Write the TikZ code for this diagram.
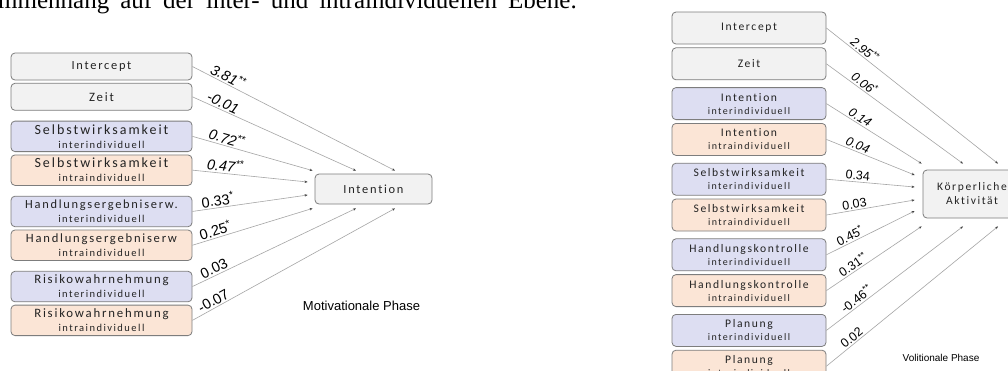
\documentclass[tikz,border=0pt]{standalone}
\usepackage{fontspec}
\setmainfont{Liberation Sans}
\newfontfamily\boxfont{Carlito}[LetterSpace=14,Ligatures=NoCommon]
\newfontfamily\headfont{Liberation Serif}
\usetikzlibrary{positioning, arrows.meta, calc}
\definecolor{boxgray}{RGB}{242,242,242}
\definecolor{boxblue}{RGB}{221,222,242}
\definecolor{boxorange}{RGB}{251,229,214}
\definecolor{rimgray}{RGB}{125,125,125}
\definecolor{pathgray}{RGB}{165,165,165}
\definecolor{boxtext}{RGB}{35,35,35}
\tikzset{
  basebox/.style={rectangle,rounded corners=4pt,draw=rimgray,line width=0.8pt,align=center,inner sep=0pt,text=boxtext},
  lbox/.style={basebox,minimum width=181pt,minimum height=30.5pt},
  rbox/.style={basebox,minimum width=154pt,minimum height=32pt,font=\boxfont\fontsize{11.6}{13}\selectfont},
  lsize/.style={font=\boxfont\fontsize{#1}{14}\selectfont},
  graybox/.style={fill=boxgray},
  interbox/.style={fill=boxblue},
  intrabox/.style={fill=boxorange},
  arr/.style={-{Stealth[length=3pt,width=2.4pt,color=black!75]},draw=pathgray,line width=0.6pt},
  lweight/.style={sloped,above,inner sep=1.5pt,font=\fontsize{14.5}{14.5}\selectfont},
  rweight/.style={sloped,above,inner sep=1.5pt,font=\fontsize{12.5}{12.5}\selectfont}
}
\newcommand{\lsub}{\fontsize{10.5}{12}\selectfont}
\newcommand{\rsub}{\fontsize{10}{11}\selectfont}

\begin{document}
\begin{tikzpicture}[x=1pt,y=-1pt]
  \clip (0,0) rectangle (1008,370);
  \fill[white] (0,0) rectangle (1008,370);

  %% text line above
  \node[anchor=base west,inner sep=0pt,font=\headfont\fontsize{25}{25}\selectfont] (kopf) at (-2,8)
    {\spaceskip=11pt\relax mmenhang auf der inter- und intraindividuellen Ebene.};

  %% Motivationale Phase
  \node[lbox,graybox,lsize=12.4,minimum height=27pt] (lint) at (101.5,66.5) {Intercept};
  \node[lbox,graybox,lsize=12.8,minimum height=27pt,below=2.5pt of lint] (lzeit) {Zeit};
  \node[lbox,interbox,lsize=14,below=10pt of lzeit] (lselbinter) {Selbstwirksamkeit\\{\lsub interindividuell}};
  \node[lbox,intrabox,lsize=14,below=2.5pt of lselbinter] (lselbintra) {Selbstwirksamkeit\\{\lsub intraindividuell}};
  \node[lbox,interbox,lsize=12.4,below=10pt of lselbintra] (lhandinter) {Handlungsergebniserw.\\{\lsub interindividuell}};
  \node[lbox,intrabox,lsize=12.6,below=2.5pt of lhandinter] (lhandintra) {Handlungsergebniserw\\{\lsub intraindividuell}};
  \node[lbox,interbox,lsize=12.8,below=10pt of lhandintra] (lrisinter) {Risikowahrnehmung\\{\lsub interindividuell}};
  \node[lbox,intrabox,lsize=12.8,below=2.5pt of lrisinter] (lrisintra) {Risikowahrnehmung\\{\lsub intraindividuell}};

  \node[lbox,graybox,lsize=12.4,minimum width=117pt,minimum height=30pt] (intention) at (373.5,189) {Intention};

  \coordinate (it1) at ([xshift=-2pt,yshift=3pt]intention.north west);
  \coordinate (it2) at ([xshift=-17.5pt,yshift=3pt]intention.north);
  \coordinate (it3) at ([xshift=21.5pt,yshift=3pt]intention.north);
  \coordinate (il1) at ([xshift=-7pt,yshift=7pt]intention.west);
  \coordinate (il2) at ([xshift=-7pt,yshift=-6pt]intention.west);
  \coordinate (ib1) at ([xshift=-2pt,yshift=-4pt]intention.south west);
  \coordinate (ib2) at ([xshift=-17.5pt,yshift=-4pt]intention.south);
  \coordinate (ib3) at ([xshift=21.5pt,yshift=-4pt]intention.south);

  \draw[arr] (lint.east) -- node[lweight,pos=0.16]{\itshape 3.81\textsuperscript{**}} (it3);
  \draw[arr] (lzeit.east) -- node[lweight,pos=0.17]{\itshape -0.01} (it2);
  \draw[arr] (lselbinter.east) -- node[lweight,pos=0.27]{\itshape 0.72\textsuperscript{**}} (it1);
  \draw[arr] (lselbintra.east) -- node[lweight,pos=0.28]{\itshape 0.47\textsuperscript{**}} (il1);
  \draw[arr] (lhandinter.east) -- node[lweight,pos=0.23]{0.33\textsuperscript{*}} (il2);
  \draw[arr] (lhandintra.east) -- node[lweight,pos=0.21]{0.25\textsuperscript{*}} (ib1);
  \draw[arr] (lrisinter.east) -- node[lweight,pos=0.15]{0.03} (ib2);
  \draw[arr] (lrisintra.east) -- node[lweight,pos=0.12]{-0.07} (ib3);

  \node[font=\fontsize{13}{13}\selectfont] (motiv) at (361.5,306) {Motivationale Phase};

  %% Volitionale Phase
  \node[rbox,graybox] (rint) at (749,28) {Intercept};
  \node[rbox,graybox,below=3pt of rint] (rzeit) {Zeit};
  \node[rbox,interbox,below=7pt of rzeit] (rintinter) {Intention\\{\rsub interindividuell}};
  \node[rbox,intrabox,below=3pt of rintinter] (rintintra) {Intention\\{\rsub intraindividuell}};
  \node[rbox,interbox,below=7pt of rintintra] (rselbinter) {Selbstwirksamkeit\\{\rsub interindividuell}};
  \node[rbox,intrabox,below=3pt of rselbinter] (rselbintra) {Selbstwirksamkeit\\{\rsub intraindividuell}};
  \node[rbox,interbox,below=7pt of rselbintra] (rhandinter) {Handlungskontrolle\\{\rsub interindividuell}};
  \node[rbox,intrabox,below=3pt of rhandinter] (rhandintra) {Handlungskontrolle\\{\rsub intraindividuell}};
  \node[rbox,interbox,below=7pt of rhandintra] (rplaninter) {Planung\\{\rsub interindividuell}};
  \node[rbox,intrabox,below=3pt of rplaninter] (rplanintra) {Planung\\{\rsub intraindividuell}};

  \node[rbox,graybox,font=\boxfont\fontsize{11.5}{14}\selectfont,minimum width=98pt,minimum height=48pt] (aktiv) at (972,194) {Körperliche\\Aktivität};

  \coordinate (kt1) at ([xshift=-1pt,yshift=6pt]aktiv.north west);
  \coordinate (kt2) at ([xshift=-9pt,yshift=6pt]aktiv.north);
  \coordinate (kt3) at ([xshift=26pt,yshift=6pt]aktiv.north);
  \coordinate (kl1) at ([xshift=-8pt,yshift=19pt]aktiv.west);
  \coordinate (kl2) at ([xshift=-8pt,yshift=7pt]aktiv.west);
  \coordinate (kl3) at ([xshift=-8pt,yshift=-6pt]aktiv.west);
  \coordinate (kl4) at ([xshift=-8pt,yshift=-17pt]aktiv.west);
  \coordinate (kb1) at ([xshift=-1pt,yshift=-8pt]aktiv.south west);
  \coordinate (kb2) at ([xshift=-9pt,yshift=-8pt]aktiv.south);
  \coordinate (kb3) at ([xshift=26pt,yshift=-8pt]aktiv.south);

  \draw[arr] (rint.east) -- node[rweight,pos=0.20]{\itshape 2.95\textsuperscript{**}} (kt3);
  \draw[arr] (rzeit.east) -- node[rweight,pos=0.25]{\itshape 0.06\textsuperscript{*}} (kt2);
  \draw[arr] (rintinter.east) -- node[rweight,pos=0.32]{\itshape 0.14} (kt1);
  \draw[arr] (rintintra.east) -- node[rweight,pos=0.33]{\itshape 0.04} (kl1);
  \draw[arr] (rselbinter.east) -- node[rweight,pos=0.35]{0.34} (kl2);
  \draw[arr] (rselbintra.east) -- node[rweight,pos=0.33]{0.03} (kl3);
  \draw[arr] (rhandinter.east) -- node[rweight,pos=0.30]{0.45\textsuperscript{*}} (kl4);
  \draw[arr] (rhandintra.east) -- node[rweight,pos=0.32]{0.31\textsuperscript{**}} (kb1);
  \draw[arr] (rplaninter.east) -- node[rweight,pos=0.25]{-0.46\textsuperscript{**}} (kb2);
  \draw[arr] (rplanintra.east) -- node[rweight,pos=0.17]{0.02} (kb3);

  \node[font=\fontsize{10}{10}\selectfont] (volit) at (941,358) {Volitionale Phase};
\end{tikzpicture}
\end{document}
